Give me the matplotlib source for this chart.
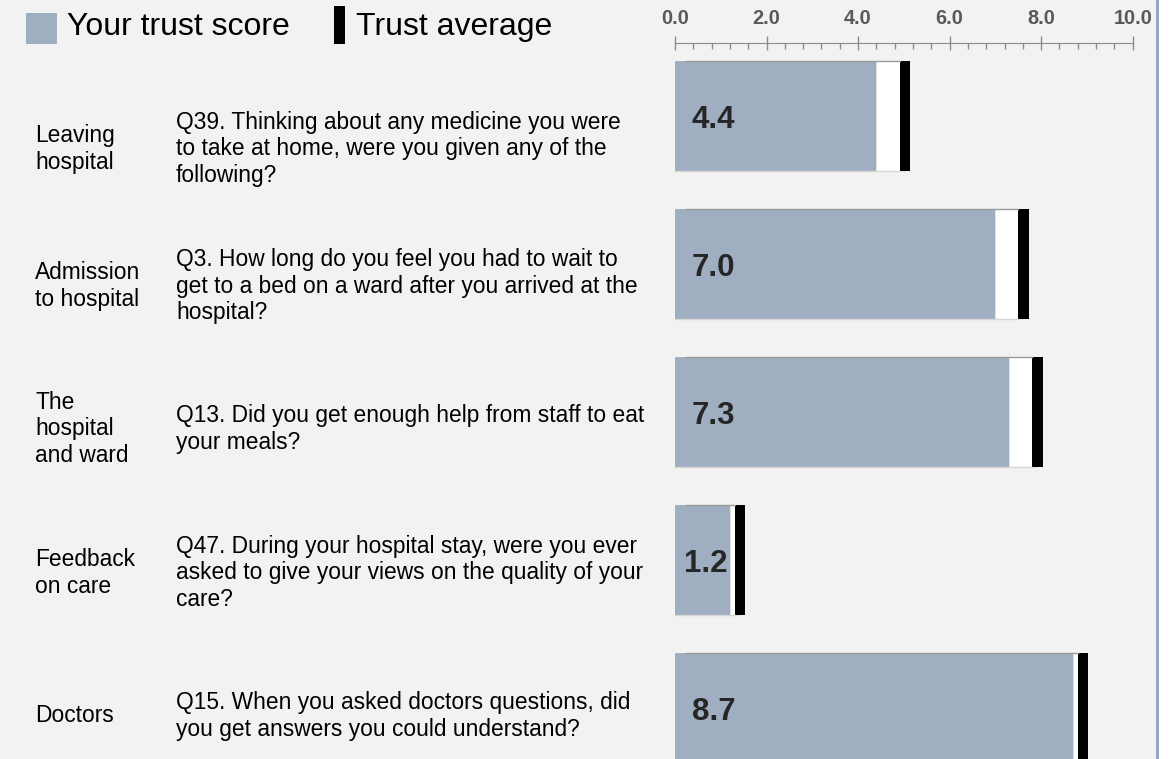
import matplotlib.pyplot as plt
from matplotlib.patches import Rectangle
from matplotlib.lines import Line2D
from matplotlib.ticker import MultipleLocator, FormatStrFormatter

plt.rcParams['font.family'] = ['Liberation Sans', 'DejaVu Sans']

# data
sections = ['Leaving\nhospital', 'Admission\nto hospital', 'The\nhospital\nand ward',
            'Feedback\non care', 'Doctors']
questions = [
    'Q39. Thinking about any medicine you were\nto take at home, were you given any of the\nfollowing?',
    'Q3. How long do you feel you had to wait to\nget to a bed on a ward after you arrived at the\nhospital?',
    'Q13. Did you get enough help from staff to eat\nyour meals?',
    'Q47. During your hospital stay, were you ever\nasked to give your views on the quality of your\ncare?',
    'Q15. When you asked doctors questions, did\nyou get answers you could understand?',
]
scores = [4.4, 7.0, 7.3, 1.2, 8.7]
trust_avg = [5.02, 7.61, 7.92, 1.42, 8.91]

W, H = 1173, 759
BG = '#f2f2f2'
BLUE = '#a0aec1'

fig = plt.figure(figsize=(W / 100, H / 100), dpi=100)
fig.patch.set_facecolor(BG)

# white strip at right with thin border line
fig.patches.append(Rectangle((1157 / W, 0), 1 - 1157 / W, 1, transform=fig.transFigure,
                             facecolor='white', edgecolor='none', zorder=0))
fig.lines.append(Line2D([1157 / W, 1157 / W], [0, 1], transform=fig.transFigure,
                        color='#8ea0bb', lw=2))

# bar axes: x 0..10 -> pixels 675..1133, bar i centred at 116 + 148*i px
x0, x1 = 675, 1132.7
step, bar_h = 148, 110
y_top = -116 / step
y_bot = (H - 116) / step
ax = fig.add_axes([x0 / W, 0, (x1 - x0) / W, 1])
ax.set_facecolor('none')
ax.set_xlim(0, 10)
ax.set_ylim(y_bot, y_top)
idx = list(range(len(scores)))
h = bar_h / step

ax.barh(idx, [a - s for a, s in zip(trust_avg, scores)], left=scores, height=h,
        color='white', edgecolor='#dddddd', linewidth=0.6)
ax.barh(idx, scores, height=h, color=BLUE, edgecolor='none')
ax.barh(idx, 0.23, left=[a - 0.115 for a in trust_avg], height=h, color='black')
for i, (s, a) in enumerate(zip(scores, trust_avg)):
    ax.plot([0.25, a - 0.115], [i - h / 2, i - h / 2], color='#9a9a9a', lw=1)
    ax.plot([0, a - 0.115], [i + h / 2, i + h / 2], color='#d6d6d6', lw=1)
    if s < 2:
        ax.text(s - 0.05, i + 0.025, f'{s:.1f}', ha='right', va='center', fontsize=22.5,
                fontweight='bold', color='#262626')
    else:
        ax.text(0.37, i + 0.025, f'{s:.1f}', ha='left', va='center', fontsize=22.5,
                fontweight='bold', color='#262626')

# top axis
for side in ['left', 'right', 'bottom']:
    ax.spines[side].set_visible(False)
ax.spines['top'].set_position(('data', (42.7 - 116) / step))
ax.spines['top'].set_color('#8c8c8c')
ax.xaxis.set_ticks_position('top')
ax.xaxis.set_major_locator(MultipleLocator(2))
ax.xaxis.set_minor_locator(MultipleLocator(0.4))
ax.xaxis.set_major_formatter(FormatStrFormatter('%.1f'))
ax.tick_params(axis='x', which='major', direction='inout', length=10, width=1,
               color='#8c8c8c', pad=5.5, labelsize=14.3, labelcolor='#595959')
ax.tick_params(axis='x', which='minor', direction='in', length=4, width=1,
               color='#8c8c8c')
for lbl in ax.get_xticklabels():
    lbl.set_fontweight('bold')
ax.set_yticks([])

# left-hand texts
text_y = [149, 286, 429, 573, 716]
for sec, q, ty in zip(sections, questions, text_y):
    fig.text(35 / W, 1 - ty / H, sec, ha='left', va='center', fontsize=16.4,
             color='black', linespacing=1.2)
    fig.text(176 / W, 1 - ty / H, q, ha='left', va='center', fontsize=16.4,
             color='black', linespacing=1.2)

# legend
fig.patches.append(Rectangle((26 / W, 1 - 44 / H), 31 / W, 31 / H, transform=fig.transFigure,
                             facecolor=BLUE, edgecolor='none'))
fig.text(67 / W, 1 - 27 / H, 'Your trust score', ha='left', va='center', fontsize=23)
fig.patches.append(Rectangle((334 / W, 1 - 44 / H), 11 / W, 38 / H, transform=fig.transFigure,
                             facecolor='black', edgecolor='none'))
fig.text(356 / W, 1 - 27 / H, 'Trust average', ha='left', va='center', fontsize=23)

fig.savefig('out.png', dpi=100, facecolor=fig.get_facecolor())
